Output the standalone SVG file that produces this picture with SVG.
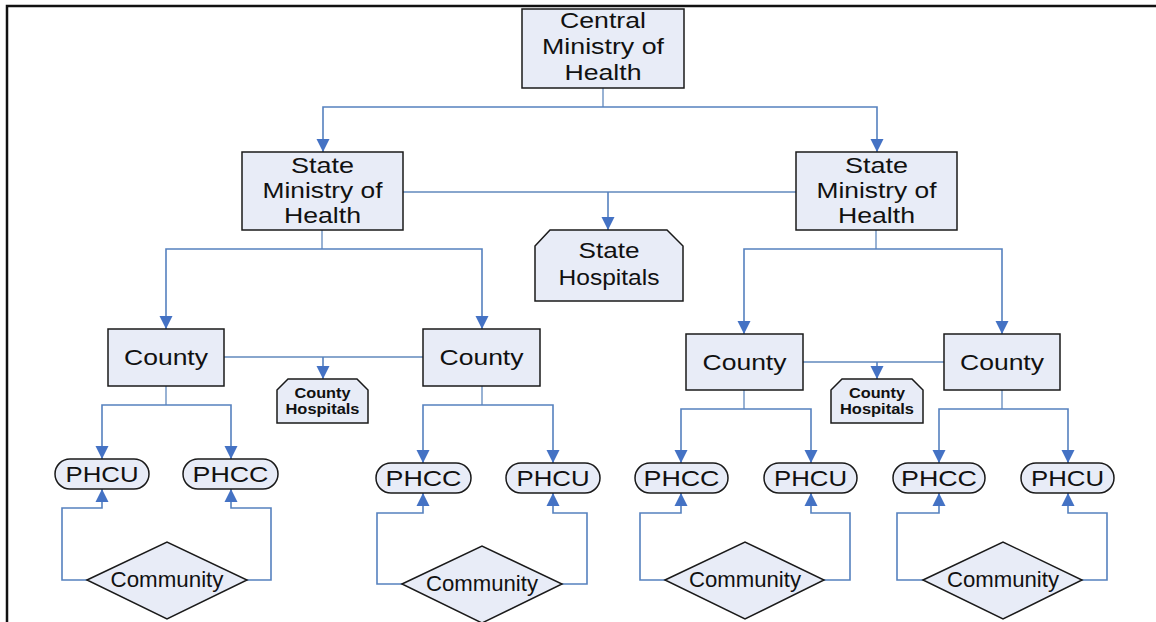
<svg xmlns="http://www.w3.org/2000/svg" width="1156" height="622" viewBox="0 0 1156 622">
<style>
.box{fill:#e8ecf7;stroke:#1a1a1a;stroke-width:1.5}
.t{font-family:"Liberation Sans",Arial,sans-serif;font-size:22px;fill:#111;text-anchor:middle}
.tb{font-family:"Liberation Sans",Arial,sans-serif;font-size:15px;font-weight:bold;fill:#111;text-anchor:middle}
.c{fill:none;stroke:#6189bd;stroke-width:1.3}
.ca{fill:none;stroke:#5581bf;stroke-width:1.6;marker-end:url(#arr)}
</style>
<defs>
<marker id="arr" viewBox="0 0 10 10" refX="10" refY="5" markerUnits="userSpaceOnUse" markerWidth="13" markerHeight="14" orient="auto">
<path d="M0,0 L10,5 L0,10 z" fill="#4472c4"/>
</marker>
</defs>
<rect width="1156" height="622" fill="#fff"/>
<path d="M7,622 V6 H1156" fill="none" stroke="#111" stroke-width="2.5"/>

<g id="connectors">
<path class="c" d="M603,88 V107"/>
<path class="ca" d="M603,107 H323 V152"/>
<path class="ca" d="M603,107 H877 V152"/>
<path class="c" d="M403,192 H796"/>
<path class="ca" d="M608,192 V230"/>
<path class="c" d="M322,230 V249"/>
<path class="ca" d="M322,249 H166 V329"/>
<path class="ca" d="M322,249 H482 V329"/>
<path class="c" d="M876,230 V249"/>
<path class="ca" d="M876,249 H744 V334"/>
<path class="ca" d="M876,249 H1002 V334"/>
<path class="c" d="M224,357 H423"/>
<path class="ca" d="M323,357 V379"/>
<path class="c" d="M803,362 H944"/>
<path class="ca" d="M877,362 V379"/>
<path class="c" d="M166,386 V405"/>
<path class="ca" d="M166,405 H102 V459"/>
<path class="ca" d="M166,405 H231 V459"/>
<path class="c" d="M482,386 V405"/>
<path class="ca" d="M482,405 H423 V463"/>
<path class="ca" d="M482,405 H553 V463"/>
<path class="c" d="M744,390 V409"/>
<path class="ca" d="M744,409 H681 V463"/>
<path class="ca" d="M744,409 H811 V463"/>
<path class="c" d="M1002,390 V409"/>
<path class="ca" d="M1002,409 H939 V463"/>
<path class="ca" d="M1002,409 H1068 V463"/>
<path class="ca" d="M87,580 H62 V508 H102 V489"/>
<path class="ca" d="M247,580 H271 V508 H231 V489"/>
<path class="ca" d="M402,584 H377 V513 H423 V493"/>
<path class="ca" d="M562,584 H587 V513 H553 V493"/>
<path class="ca" d="M665,580 H640 V513 H681 V493"/>
<path class="ca" d="M824,580 H850 V513 H811 V493"/>
<path class="ca" d="M923,580 H897 V513 H939 V493"/>
<path class="ca" d="M1082,580 H1107 V513 H1068 V493"/>
</g>

<g id="central">
<rect class="box" x="522" y="9" width="162" height="79"/>
<text class="t" x="603" y="28" textLength="86" lengthAdjust="spacingAndGlyphs">Central</text>
<text class="t" x="603" y="54" textLength="122" lengthAdjust="spacingAndGlyphs">Ministry of</text>
<text class="t" x="603" y="80" textLength="77" lengthAdjust="spacingAndGlyphs">Health</text>
</g>
<g id="state-left">
<rect class="box" x="242" y="152" width="161" height="78"/>
<text class="t" x="322.5" y="173" textLength="63" lengthAdjust="spacingAndGlyphs">State</text>
<text class="t" x="322.5" y="198" textLength="120" lengthAdjust="spacingAndGlyphs">Ministry of</text>
<text class="t" x="322.5" y="223" textLength="77" lengthAdjust="spacingAndGlyphs">Health</text>
</g>
<g id="state-right">
<rect class="box" x="796" y="152" width="161" height="78"/>
<text class="t" x="876.5" y="173" textLength="63" lengthAdjust="spacingAndGlyphs">State</text>
<text class="t" x="876.5" y="198" textLength="120" lengthAdjust="spacingAndGlyphs">Ministry of</text>
<text class="t" x="876.5" y="223" textLength="77" lengthAdjust="spacingAndGlyphs">Health</text>
</g>
<g id="state-hospitals">
<polygon class="box" points="535,246 550,230 667,230 683,246 683,301 535,301"/>
<text class="t" x="609" y="258" textLength="61" lengthAdjust="spacingAndGlyphs">State</text>
<text class="t" x="609" y="285" textLength="101" lengthAdjust="spacingAndGlyphs">Hospitals</text>
</g>

<g id="county-1">
<rect class="box" x="108" y="329" width="116" height="57"/>
<text class="t" x="166" y="365" textLength="84" lengthAdjust="spacingAndGlyphs">County</text>
</g>
<g id="county-2">
<rect class="box" x="423" y="329" width="117" height="57"/>
<text class="t" x="481.5" y="365" textLength="84" lengthAdjust="spacingAndGlyphs">County</text>
</g>
<g id="county-3">
<rect class="box" x="686" y="334" width="117" height="56"/>
<text class="t" x="744.5" y="370" textLength="84" lengthAdjust="spacingAndGlyphs">County</text>
</g>
<g id="county-4">
<rect class="box" x="944" y="334" width="116" height="56"/>
<text class="t" x="1002" y="370" textLength="84" lengthAdjust="spacingAndGlyphs">County</text>
</g>
<g id="county-hospitals-1">
<polygon class="box" points="277,390 288,379 357,379 368,390 368,423 277,423"/>
<text class="tb" x="322.5" y="398" textLength="56" lengthAdjust="spacingAndGlyphs">County</text>
<text class="tb" x="322.5" y="414" textLength="74" lengthAdjust="spacingAndGlyphs">Hospitals</text>
</g>
<g id="county-hospitals-2">
<polygon class="box" points="831,390 842,379 912,379 923,390 923,423 831,423"/>
<text class="tb" x="877" y="398" textLength="56" lengthAdjust="spacingAndGlyphs">County</text>
<text class="tb" x="877" y="414" textLength="74" lengthAdjust="spacingAndGlyphs">Hospitals</text>
</g>

<g id="phcu-1">
<rect class="box" x="55" y="459" width="94" height="30" rx="15"/>
<text class="t" x="102" y="482" textLength="73" lengthAdjust="spacingAndGlyphs">PHCU</text>
</g>
<g id="phcc-1">
<rect class="box" x="183" y="459" width="95" height="30" rx="15"/>
<text class="t" x="230.5" y="482" textLength="76" lengthAdjust="spacingAndGlyphs">PHCC</text>
</g>
<g id="phcc-2">
<rect class="box" x="376" y="463" width="95" height="30" rx="15"/>
<text class="t" x="423.5" y="486" textLength="76" lengthAdjust="spacingAndGlyphs">PHCC</text>
</g>
<g id="phcu-2">
<rect class="box" x="506" y="463" width="94" height="30" rx="15"/>
<text class="t" x="553" y="486" textLength="73" lengthAdjust="spacingAndGlyphs">PHCU</text>
</g>
<g id="phcc-3">
<rect class="box" x="635" y="463" width="93" height="30" rx="15"/>
<text class="t" x="681.5" y="486" textLength="76" lengthAdjust="spacingAndGlyphs">PHCC</text>
</g>
<g id="phcu-3">
<rect class="box" x="764" y="463" width="93" height="30" rx="15"/>
<text class="t" x="810.5" y="486" textLength="73" lengthAdjust="spacingAndGlyphs">PHCU</text>
</g>
<g id="phcc-4">
<rect class="box" x="893" y="463" width="92" height="30" rx="15"/>
<text class="t" x="939" y="486" textLength="76" lengthAdjust="spacingAndGlyphs">PHCC</text>
</g>
<g id="phcu-4">
<rect class="box" x="1021" y="463" width="93" height="30" rx="15"/>
<text class="t" x="1067.5" y="486" textLength="73" lengthAdjust="spacingAndGlyphs">PHCU</text>
</g>

<g id="community-1">
<polygon class="box" points="87,580 167,542 247,580 167,619"/>
<text class="t" x="167" y="587" font-size="20" textLength="113" lengthAdjust="spacingAndGlyphs">Community</text>
</g>
<g id="community-2">
<polygon class="box" points="402,584 482,546 562,584 482,623"/>
<text class="t" x="482" y="591" font-size="20" textLength="112" lengthAdjust="spacingAndGlyphs">Community</text>
</g>
<g id="community-3">
<polygon class="box" points="665,580 745,542 824,580 745,619"/>
<text class="t" x="745" y="587" font-size="20" textLength="112" lengthAdjust="spacingAndGlyphs">Community</text>
</g>
<g id="community-4">
<polygon class="box" points="923,580 1003,542 1082,580 1003,619"/>
<text class="t" x="1003" y="587" font-size="20" textLength="112" lengthAdjust="spacingAndGlyphs">Community</text>
</g>
</svg>
